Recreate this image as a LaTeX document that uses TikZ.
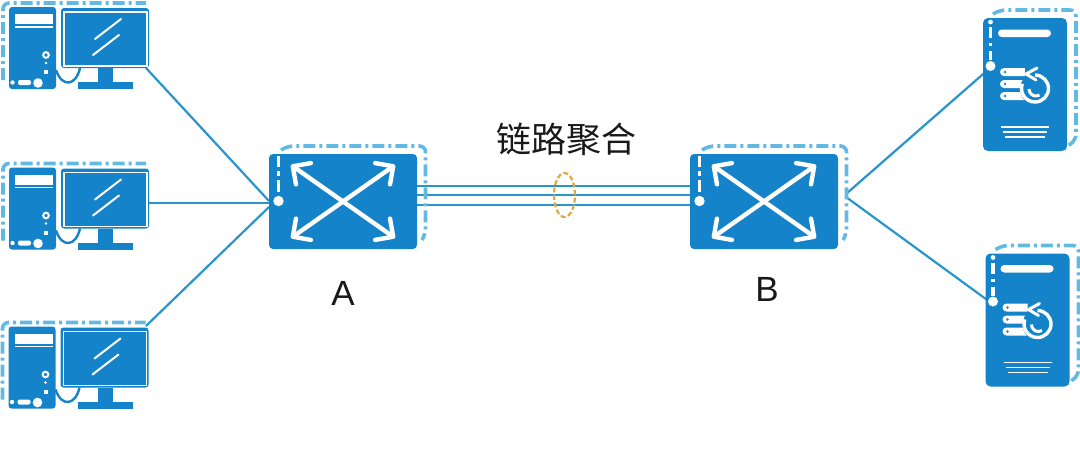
\documentclass[tikz,border=0pt]{standalone}
\usepackage{fontspec}
\setmainfont{Liberation Sans}
\newfontfamily\cjk{Noto Sans CJK SC}
\usetikzlibrary{arrows.meta,shapes.geometric}
\definecolor{devblue}{HTML}{1583C9}
\definecolor{dashblue}{HTML}{62B9E2}
\definecolor{linkblue}{HTML}{2A94CC}
\definecolor{ringor}{HTML}{E0A93E}
\tikzset{
  solidbox/.style={fill=devblue,draw=none,inner sep=0pt,outer sep=0pt},
  wline/.style={draw=white,line width=2pt,line cap=round},
  dashrim/.style={draw=dashblue,line width=3.6pt,rounded corners=6pt,dash pattern=on 12pt off 4pt on 3pt off 4pt},
  linkline/.style={draw=linkblue,line width=2.2pt},
  xarrow/.style={draw=white,line width=4.4pt,{Straight Barb[length=13pt,width=26pt,line width=4.4pt,round]}-{Straight Barb[length=13pt,width=26pt,line width=4.4pt,round]}},
  label/.style={text=black!90,font=\fontsize{35}{35}\selectfont,inner sep=0pt},
  pcicon/.pic={
    \draw[dashrim] (3,80) -- (3,3) -- (146,3);
    \node[solidbox,rounded corners=3pt,minimum width=47pt,minimum height=82pt] (tower) at (32.5,48) {};
    \node[solidbox,rounded corners=3pt,minimum width=88pt,minimum height=60pt] (mon) at (105,38) {};
    \draw[draw=white,line width=1.2pt] (64,12) rectangle (147,66);
    \fill[devblue] (98,68) rectangle (113,82);
    \fill[devblue] (78,82) rectangle (133,89);
    \draw[devblue,line width=2.4pt] (56,70) .. controls (62,88) and (76,86) .. (80,68);
    \fill[white] (15,14) rectangle (53,24);
    \draw[wline,line width=1.6pt,line cap=butt] (15,27) -- (53,27);
    \draw[white,line width=2pt] (46,55) circle (2.8pt);
    \fill[white] (46,63) circle (1.4pt);
    \fill[white] (44,70) rectangle (48,74);
    \fill[white] (12.5,82.5) circle (2.2pt);
    \fill[white,rounded corners=2pt] (18,80) rectangle (31,85);
    \fill[white] (38,83) circle (4.8pt);
    \draw[wline] (95,39) -- (121,19);
    \draw[wline] (93,55) -- (119,35);
  },
  switchicon/.pic={
    \draw[dashrim] (12,-4) -- (19,-8) -- (156.5,-8) -- (156.5,80) -- (153,86);
    \node[solidbox,rounded corners=4pt,minimum width=148pt,minimum height=95pt] (box) at (74,47.5) {};
    \draw[xarrow] (22,11) -- (126,84);
    \draw[xarrow] (126,11) -- (22,84);
    \draw[white,line width=3.8pt] (9.5,2) -- (9.5,13);
    \draw[white,line width=3.8pt] (9.5,17) -- (9.5,22);
    \draw[white,line width=3.8pt] (9.5,26) -- (9.5,38);
    \fill[white] (9.5,47) circle (5.2pt);
  },
  servericon/.pic={
    \draw[dashrim] (10,-4) -- (17,-8) -- (93,-8) -- (93,122) -- (82,130);
    \node[solidbox,rounded corners=5pt,minimum width=84pt,minimum height=133pt] (box) at (42,66.5) {};
    \fill[white] (7.5,4) circle (2.4pt);
    \draw[white,line width=3.6pt] (7.5,9) -- (7.5,20);
    \draw[white,line width=3.6pt] (7.5,25) -- (7.5,28);
    \draw[white,line width=3.6pt] (7.5,33) -- (7.5,42);
    \fill[white] (7.5,48) circle (5pt);
    \fill[white,rounded corners=3.7pt] (15,11.5) rectangle (68,19);
    \foreach \yy in {54,66,78}{
      \fill[white,rounded corners=4pt] (17,\yy-4) rectangle (48,\yy+4);
      \fill[devblue] (22,\yy) circle (1.4pt);
    }
    \fill[devblue] (53,71) circle (16pt);
    \fill[devblue] (42,48) -- (58,46) -- (58,66) -- (42,62) -- cycle;
    \draw[white,line width=3.4pt] (52,57) arc[start angle=90,end angle=-200,radius=13.5pt];
    \draw[white,line width=3pt] (46,71) arc[start angle=180,end angle=300,radius=7pt];
    \draw[white,line width=3pt,line join=round,line cap=round] (54,50) -- (43,56) -- (53,62);
    \draw[white,line width=1.9pt] (18,109) -- (66,109);
    \draw[white,line width=1.9pt] (20,114) -- (64,114);
    \draw[white,line width=1.9pt] (22,119) -- (62,119);
  }
}
\begin{document}
\begin{tikzpicture}[x=1pt,y=-1pt]
\useasboundingbox (0,0) rectangle (1080,451);
% link end points
\coordinate (pa1) at (269,201);
\coordinate (pa2) at (269,203);
\coordinate (pa3) at (269,207);
\coordinate (p1) at (146,68);
\coordinate (p2) at (149,203);
\coordinate (p3) at (146,326);
\coordinate (a1) at (417,186);
\coordinate (a2) at (417,195);
\coordinate (a3) at (417,205);
\coordinate (b1) at (690,186);
\coordinate (b2) at (690,195);
\coordinate (b3) at (690,205);
\coordinate (bs1) at (846,194);
\coordinate (bs2) at (846,197);
\coordinate (s1) at (990,68);
\coordinate (s2) at (990,302);
\draw[linkline] (p1) -- (pa1);
\draw[linkline] (p2) -- (pa2);
\draw[linkline] (p3) -- (pa3);
\draw[linkline] (a1) -- (b1);
\draw[linkline] (a2) -- (b2);
\draw[linkline] (a3) -- (b3);
\draw[linkline] (bs1) -- (s1);
\draw[linkline] (bs2) -- (s2);
\pic (pc1) at (0,0) {pcicon};
\pic (pc2) at (0,160.5) {pcicon};
\pic (pc3) at (-0.5,319.5) {pcicon};
\pic (swa) at (269,154) {switchicon};
\pic (swb) at (690,154) {switchicon};
\pic (srv1) at (983,18) {servericon};
\pic (srv2) at (985.5,253.5) {servericon};
\node[draw=ringor,line width=2.2pt,dash pattern=on 5pt off 2.5pt,ellipse,minimum width=21pt,minimum height=44pt,inner sep=0pt] (ring) at (564.5,195) {};
\node[label] (title) at (566,139) {\cjk 链路聚合};
\node[label] (la) at (343,293) {A};
\node[label] (lb) at (767,289) {B};
\end{tikzpicture}
\end{document}
